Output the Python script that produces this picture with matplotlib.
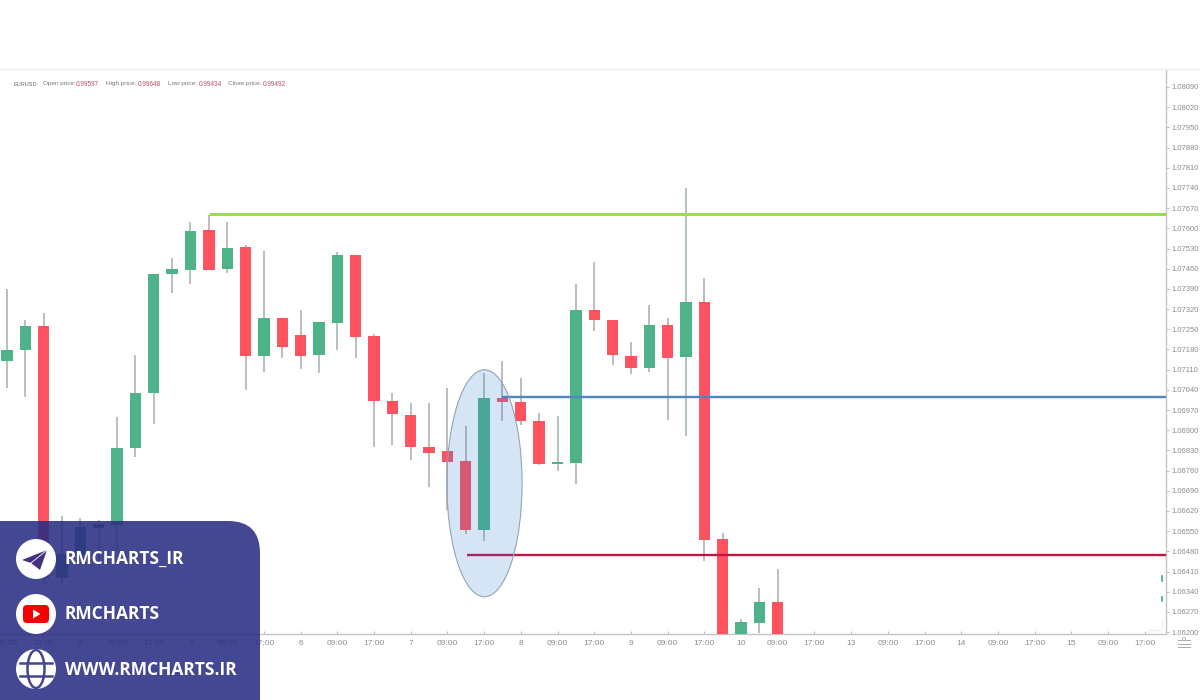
import numpy as np
import matplotlib
matplotlib.use("Agg")
import matplotlib.pyplot as plt
from matplotlib.patches import Ellipse, FancyBboxPatch, Circle, Polygon

plt.rcParams['font.family'] = ['Liberation Sans', 'DejaVu Sans']

# Candle data (top of the list = first visible candle)
opens = [1.07140, 1.07178, 1.07261, 1.06388, 1.06467, 1.06561, 1.06571, 1.06838, 1.07029, 1.07442,
         1.07456, 1.07594, 1.07459, 1.07535, 1.07157, 1.07289, 1.07230, 1.07161, 1.07272, 1.07508,
         1.07227, 1.07001, 1.06953, 1.06842, 1.06828, 1.06793, 1.06554, 1.07012, 1.06998, 1.06932,
         1.06783, 1.06786, 1.07317, 1.07282, 1.07157, 1.07116, 1.07265, 1.07154, 1.07345, 1.06523,
         1.06173, 1.06232, 1.06304]
closes = [1.07178, 1.07261, 1.06388, 1.06471, 1.06565, 1.06575, 1.06838, 1.07029, 1.07442, 1.07459,
          1.07591, 1.07456, 1.07532, 1.07157, 1.07289, 1.07189, 1.07157, 1.07275, 1.07508, 1.07223,
          1.07001, 1.06956, 1.06842, 1.06821, 1.06790, 1.06554, 1.07012, 1.06998, 1.06932, 1.06783,
          1.06790, 1.07317, 1.07282, 1.07161, 1.07116, 1.07265, 1.07150, 1.07345, 1.06519, 1.06173,
          1.06235, 1.06304, 1.06173]
highs = [1.07390, 1.07282, 1.07306, 1.06603, 1.06596, 1.06589, 1.06946, 1.07161, 1.07442, 1.07497,
         1.07622, 1.07646, 1.07622, 1.07542, 1.07521, 1.07289, 1.07317, 1.07275, 1.07518, 1.07508,
         1.07234, 1.07029, 1.06994, 1.06994, 1.07046, 1.06915, 1.07098, 1.07140, 1.07081, 1.06960,
         1.06949, 1.07407, 1.07483, 1.07282, 1.07206, 1.07334, 1.07289, 1.07740, 1.07428, 1.06544,
         1.06245, 1.06353, 1.06419]
lows = [1.07046, 1.07015, 1.06363, 1.06370, 1.06450, 1.06450, 1.06485, 1.06807, 1.06922, 1.07376,
        1.07407, 1.07456, 1.07445, 1.07040, 1.07102, 1.07150, 1.07112, 1.07098, 1.07178, 1.07150,
        1.06842, 1.06849, 1.06797, 1.06703, 1.06623, 1.06540, 1.06516, 1.06932, 1.06918, 1.06779,
        1.06759, 1.06714, 1.07244, 1.07126, 1.07095, 1.07102, 1.06935, 1.06880, 1.06447, 1.06173,
        1.06173, 1.06197, 1.06173]

# Horizontal levels
resistance = 1.07648
middle = 1.07015
support = 1.06469

x_labels = ['09:00', '17:00', '2', '09:00', '17:00', '3', '09:00', '17:00', '6', '09:00', '17:00',
            '7', '09:00', '17:00', '8', '09:00', '17:00', '9', '09:00', '17:00', '10', '09:00',
            '17:00', '13', '09:00', '17:00', '14', '09:00', '17:00', '15', '09:00', '17:00']
y_labels = ['%.5f' % (1.08090 - 0.0007 * k) for k in range(28)]

UP = '#4fb38a'
DOWN = '#ff5260'
UP_WICK = '#a6b8b0'
DOWN_WICK = '#b8aeb0'
GREY = '#8c8c8c'

fig = plt.figure(figsize=(12, 7), dpi=100)
ax = fig.add_axes([0, 66 / 700, 1166 / 1200, 564 / 700])

# Candles
idx = np.arange(len(opens))
opens = np.array(opens)
closes = np.array(closes)
is_up = closes >= opens
ax.vlines(idx, lows, highs, colors=[UP_WICK if u else DOWN_WICK for u in is_up], lw=1.2, zorder=2)
ax.bar(idx, np.abs(closes - opens), bottom=np.minimum(opens, closes), width=0.62,
       color=[UP if u else DOWN for u in is_up], linewidth=0, zorder=3)

# Levels
ax.hlines(resistance, 11, 70, color='#9ade50', lw=2.2, zorder=4)
ax.hlines(middle, 27, 70, color='#4f86c0', lw=1.7, zorder=4)
ax.hlines(support, 25.05, 70, color='#c2143f', lw=1.7, zorder=4)

# Highlight ellipse
ax.add_patch(Ellipse((26.02, 1.06716), 4.1, 0.00787, facecolor=(49 / 255, 125 / 255, 205 / 255, 0.2),
                     edgecolor='#8fa6b2', lw=0.8, zorder=5))

ax.set_xlim(-0.381, 63.16)
ax.set_ylim(1.061935, 1.081489)
ax.set_xticks(np.arange(0, 64, 2))
ax.set_xticklabels(x_labels)
ax.yaxis.tick_right()
ax.set_yticks([float(v) for v in y_labels])
ax.set_yticklabels(y_labels)
ax.tick_params(axis='x', direction='in', length=2, width=0.7, color='#bbbbbb', labelsize=6.0,
               labelcolor=GREY, pad=4)
ax.tick_params(axis='y', direction='out', length=2, width=0.7, color='#bbbbbb', labelsize=5.5,
               labelcolor=GREY, pad=2.2)
for side in ['top', 'left']:
    ax.spines[side].set_visible(False)
for side in ['right', 'bottom']:
    ax.spines[side].set_color('#c4c4c4')
    ax.spines[side].set_linewidth(1.0)

# Overlay in pixel coordinates: header, price marks, branding panel
ov = fig.add_axes([0, 0, 1, 1], zorder=10)
ov.set_xlim(0, 1200)
ov.set_ylim(700, 0)
ov.axis('off')
ov.patch.set_alpha(0)

ov.plot([0, 1200], [69, 69], color='#efefef', lw=1)

header = [(13, 'EURUSD', '#666666', 4.1), (43, 'Open price:', '#777777', 4.6), (76, '0.99597', '#b5506a', 4.7),
          (106, 'High price:', '#777777', 4.6), (138, '0.99648', '#b5506a', 4.7), (168, 'Low price:', '#777777', 4.6),
          (199, '0.99434', '#b5506a', 4.7), (228, 'Close price:', '#777777', 4.6), (263, '0.99492', '#b5506a', 4.7)]
for hx, txt, col, fs in header:
    ov.text(hx, 84, txt, fontsize=fs, color=col, va='center', ha='left')

# Little marks next to the price axis
ov.plot([1162, 1162], [576, 581], color='#3fa89a', lw=1.2)
ov.plot([1162, 1162], [597, 601], color='#3fa89a', lw=1.2)
ov.plot([1162, 1162], [620, 628], color='#eeeeee', lw=1)
ov.plot([1148, 1160], [630, 630], color='#eeeeee', lw=1)

# Settings icon under the price axis
for iy, ix0, ix1 in [(640, 1178, 1190), (644, 1178, 1190), (647, 1178, 1190)]:
    ov.plot([ix0, ix1], [iy, iy], color='#aaaaaa', lw=0.7)
ov.add_patch(Circle((1184, 639), 1.5, facecolor='white', edgecolor='#aaaaaa', lw=0.6))

# Branding panel
ov.add_patch(FancyBboxPatch((-60, 521), 320, 260, boxstyle='round,pad=0,rounding_size=32',
                            facecolor=(42 / 255, 45 / 255, 130 / 255, 0.88), edgecolor='none'))
PANEL = '#44468f'
for cy in [559, 614, 669]:
    ov.add_patch(Circle((36, cy), 20, facecolor='white', edgecolor='none'))

# Telegram
ov.add_patch(Polygon([(47, 550), (22, 560), (31, 563), (40, 570)], closed=True, facecolor='#46307f', edgecolor='none'))
ov.plot([47, 31], [550, 563], color='white', lw=0.6)
# YouTube
ov.add_patch(FancyBboxPatch((26, 608), 20, 12, boxstyle='round,pad=3,rounding_size=4', facecolor='#f70000', edgecolor='none'))
ov.add_patch(Polygon([(33, 609.5), (33, 618.5), (40.5, 614)], closed=True, facecolor='white', edgecolor='none'))
# Globe
ov.add_patch(Ellipse((36, 669), 17, 38, facecolor='none', edgecolor=PANEL, lw=1.8))
ov.plot([20, 52], [662.5, 662.5], color=PANEL, lw=1.8)
ov.plot([20, 52], [675.5, 675.5], color=PANEL, lw=1.8)

for ty, txt in [(559, 'RMCHARTS_IR'), (614, 'RMCHARTS'), (670, 'WWW.RMCHARTS.IR')]:
    ov.text(65, ty, txt, color='white', fontsize=12.5, fontweight='bold', family='Open Sans',
            va='center', ha='left')

fig.savefig('out.png', dpi=100, facecolor='white')
